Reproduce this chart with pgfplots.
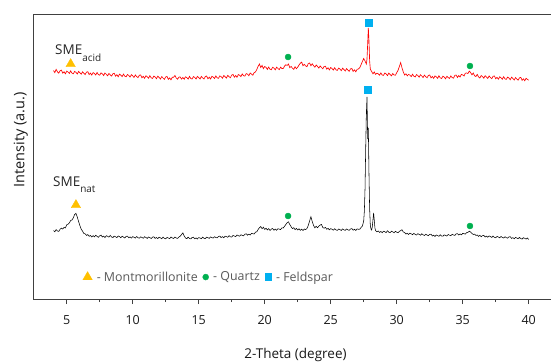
\documentclass[border=0pt]{standalone}
\usepackage{pgfplots}
\pgfplotsset{compat=1.18}
\usepackage{fontspec}
\setmainfont{Open Sans}
\definecolor{mgold}{HTML}{FFC000}
\definecolor{mgreen}{HTML}{00B050}
\definecolor{mblue}{HTML}{00B0F0}
\definecolor{axgray}{HTML}{404040}
\definecolor{leggray}{HTML}{595959}
\begin{document}
\begin{tikzpicture}
\begin{axis}[
  name=ax,
  scale only axis,
  width=521.4pt, height=285pt,
  xmin=2.5, xmax=42, ymin=0, ymax=285,
  xtick={5,10,...,40},
  minor x tick num=1,
  ytick=\empty,
  tick pos=bottom,
  tick align=outside,
  major tick length=5pt,
  minor tick length=3pt,
  axis line style={axgray, line width=0.9pt},
  every tick/.style={axgray, line width=0.8pt},
  /pgf/number format/assume math mode=true,
  tick label style={font=\fontsize{12.5}{12.5}\selectfont, black!90},
  xticklabel style={yshift=-8pt},
  xlabel={2-Theta (degree)},
  xlabel style={font=\fontsize{13.5}{13.5}\selectfont, black!90, at={(axis description cs:0.502,0)}, anchor=north, yshift=-49pt, inner sep=0pt},
  ylabel={Intensity (a.u.)},
  ylabel style={font=\fontsize{14.5}{14.5}\selectfont, black!90, at={(axis description cs:-0.011,0.558)}, anchor=south, inner sep=0pt},
  legend columns=3,
  legend style={draw=none, fill=none, font=\fontsize{12.4}{12.4}\selectfont, text=leggray,
    at={(axis description cs:0.094,0.077)}, anchor=west, inner sep=0pt,
    /tikz/every odd column/.append style={column sep=2.5pt},
    /tikz/every even column/.append style={column sep=3pt}},
  legend image code/.code={\draw[#1] plot coordinates {(0.15cm,0cm)};},
  clip=false,
]
% SME_nat (black)
\addplot[black, line width=0.55pt, forget plot] table {
x y
4.0 68.5
4.1 67.2
4.2 69.4
4.3 68.0
4.4 67.6
4.5 69.8
4.6 70.9
4.7 70.0
4.8 71.6
4.9 71.0
5.0 74.2
5.1 74.8
5.2 76.0
5.3 78.5
5.4 79.0
5.5 81.2
5.6 84.5
5.7 85.6
5.8 82.0
5.9 77.5
6.0 73.4
6.1 69.8
6.2 67.9
6.3 65.5
6.4 65.2
6.5 63.6
6.6 64.4
6.7 62.7
6.8 63.5
6.9 62.0
7.0 63.4
7.1 62.1
7.2 63.8
7.3 62.6
7.4 61.7
7.5 63.2
7.6 63.9
7.7 62.0
7.8 62.9
7.9 61.4
8.0 63.3
8.1 62.7
8.2 61.9
8.3 63.6
8.4 62.0
8.5 61.5
8.6 62.9
8.7 62.3
8.8 61.4
8.9 63.0
9.0 62.5
9.1 61.3
9.2 62.8
9.3 61.9
9.4 61.0
9.5 62.6
9.6 62.9
9.7 61.2
9.8 62.1
9.9 60.9
10.0 62.4
10.1 61.8
10.2 60.9
10.3 62.5
10.4 61.3
10.5 60.8
10.6 62.2
10.7 61.6
10.8 60.7
10.9 62.3
11.0 61.5
11.1 60.6
11.2 62.0
11.3 61.4
11.4 60.5
11.5 61.9
11.6 62.2
11.7 60.6
11.8 61.5
11.9 60.4
12.0 61.8
12.1 61.2
12.2 60.3
12.3 61.9
12.4 60.7
12.5 60.2
12.6 61.6
12.7 61.0
12.8 60.4
12.9 62.0
13.0 61.1
13.1 60.5
13.2 61.9
13.3 61.0
13.4 60.6
13.5 62.0
13.6 62.8
13.7 64.5
13.8 66.2
13.9 63.0
14.0 61.0
14.1 60.4
14.2 61.8
14.3 60.6
14.4 60.1
14.5 61.5
14.6 61.8
14.7 60.2
14.8 61.1
14.9 60.0
15.0 61.4
15.1 61.0
15.2 60.3
15.3 61.9
15.4 60.7
15.5 60.4
15.6 61.8
15.7 61.3
15.8 60.6
15.9 62.1
16.0 61.4
16.1 60.9
16.2 62.3
16.3 61.5
16.4 61.1
16.5 62.5
16.6 62.9
16.7 61.4
16.8 62.4
16.9 61.3
17.0 62.8
17.1 62.4
17.2 61.7
17.3 63.3
17.4 62.2
17.5 62.0
17.6 63.5
17.7 63.0
17.8 62.4
17.9 64.0
18.0 63.3
18.1 62.8
18.2 64.3
18.3 63.6
18.4 63.2
18.5 64.8
18.6 65.2
18.7 63.8
18.8 64.9
18.9 64.0
19.0 65.6
19.1 65.3
19.2 65.0
19.3 66.9
19.4 67.2
19.5 69.5
19.6 71.3
19.7 72.4
19.8 70.3
19.9 71.8
20.0 69.6
20.1 70.8
20.2 69.0
20.3 70.4
20.4 68.6
20.5 69.9
20.6 70.5
20.7 68.8
20.8 69.9
20.9 68.7
21.0 70.3
21.1 69.9
21.2 69.4
21.3 71.2
21.4 71.0
21.5 72.6
21.6 74.5
21.7 76.3
21.8 77.2
21.9 74.5
22.0 72.3
22.1 70.4
22.2 71.3
22.3 69.4
22.4 70.6
22.5 69.0
22.6 70.2
22.7 68.7
22.8 69.8
22.9 68.5
23.0 70.0
23.1 69.4
23.2 70.5
23.3 73.5
23.4 78.0
23.5 82.3
23.6 77.5
23.7 73.6
23.8 71.2
23.9 72.7
24.0 71.3
24.1 72.8
24.2 73.9
24.3 74.6
24.4 71.5
24.5 70.8
24.6 71.6
24.7 69.7
24.8 70.6
24.9 69.2
25.0 70.4
25.1 69.7
25.2 68.8
25.3 70.3
25.4 69.1
25.5 68.6
25.6 70.0
25.7 69.4
25.8 68.5
25.9 70.1
26.0 69.2
26.1 68.6
26.2 70.0
26.3 69.1
26.4 68.7
26.5 70.1
26.6 70.4
26.7 68.8
26.8 69.7
26.9 68.6
27.0 70.1
27.1 69.7
27.2 69.8
27.3 71.5
27.4 73.0
27.5 78.0
27.55 88
27.6 110
27.65 150
27.7 185
27.75 202
27.8 160
27.85 171
27.9 125
27.95 90
28.0 74
28.05 70
28.1 69
28.15 72
28.2 79
28.25 86
28.3 79
28.35 71
28.4 68.5
28.5 67.2
28.6 68.0
28.7 66.6
28.8 67.5
28.9 66.3
29.0 67.8
29.1 67.2
29.2 66.4
29.3 68.3
29.4 66.8
29.5 66.4
29.6 67.8
29.7 67.1
29.8 66.2
29.9 67.7
30.0 66.8
30.1 66.3
30.2 67.6
30.3 68.4
30.4 69.3
30.5 67.0
30.6 66.6
30.7 64.9
30.8 65.8
30.9 64.5
31.0 65.8
31.1 65.2
31.2 64.3
31.3 65.7
31.4 64.5
31.5 64.0
31.6 65.3
31.7 64.6
31.8 63.8
31.9 65.2
32.0 64.2
32.1 63.5
32.2 64.8
32.3 63.9
32.4 63.3
32.5 64.6
32.6 64.8
32.7 63.0
32.8 63.8
32.9 62.6
33.0 64.0
33.1 63.4
33.2 62.7
33.3 64.2
33.4 63.0
33.5 62.8
33.6 64.1
33.7 63.6
33.8 63.0
33.9 64.5
34.0 63.8
34.1 63.3
34.2 64.7
34.3 64.0
34.4 63.6
34.5 65.1
34.6 65.4
34.7 64.0
34.8 65.1
34.9 64.2
35.0 65.6
35.1 65.3
35.2 64.9
35.3 66.4
35.4 66.7
35.5 67.8
35.6 67.0
35.7 65.6
35.8 64.5
35.9 64.9
36.0 63.5
36.1 64.0
36.2 62.6
36.3 63.7
36.4 62.3
36.5 63.4
36.6 63.6
36.7 62.0
36.8 62.9
36.9 61.8
37.0 63.1
37.1 62.4
37.2 61.6
37.3 63.0
37.4 61.7
37.5 61.3
37.6 62.6
37.7 62.0
37.8 61.2
37.9 62.6
38.0 61.6
38.1 61.0
38.2 62.3
38.3 61.4
38.4 60.8
38.5 62.1
38.6 62.3
38.7 60.6
38.8 61.4
38.9 60.3
39.0 61.6
39.1 61.0
39.2 60.3
39.3 61.6
39.4 60.4
39.5 60.0
39.6 61.3
39.7 60.7
39.8 59.9
39.9 61.0
40.0 59.6
};
% SME_acid (red)
\addplot[red, line width=0.65pt, forget plot] table {
x y
4.0 228.5
4.1 226.4
4.2 229.6
4.3 227.2
4.4 225.9
4.5 228.3
4.6 228.9
4.7 225.8
4.8 227.3
4.9 225.2
5.0 227.9
5.1 227.0
5.2 225.6
5.3 228.1
5.4 225.9
5.5 225.2
5.6 227.6
5.7 226.7
5.8 225.0
5.9 227.5
6.0 226.3
6.1 224.8
6.2 227.2
6.3 225.7
6.4 224.5
6.5 226.9
6.6 227.3
6.7 224.4
6.8 225.9
6.9 223.9
7.0 226.4
7.1 225.5
7.2 224.0
7.3 226.5
7.4 224.4
7.5 223.8
7.6 226.1
7.7 225.2
7.8 223.5
7.9 226.0
8.0 224.7
8.1 223.2
8.2 225.6
8.3 224.1
8.4 222.9
8.5 225.3
8.6 225.7
8.7 222.8
8.8 224.3
8.9 222.3
9.0 224.8
9.1 223.9
9.2 222.4
9.3 224.9
9.4 222.8
9.5 222.2
9.6 224.5
9.7 223.6
9.8 221.9
9.9 224.4
10.0 223.1
10.1 221.6
10.2 224.0
10.3 222.5
10.4 221.3
10.5 223.7
10.6 224.1
10.7 221.2
10.8 222.7
10.9 220.7
11.0 223.2
11.1 222.3
11.2 220.8
11.3 223.3
11.4 221.2
11.5 220.6
11.6 222.9
11.7 222.0
11.8 220.3
11.9 222.8
12.0 221.5
12.1 220.0
12.2 222.4
12.3 220.9
12.4 219.7
12.5 222.1
12.6 222.5
12.7 219.6
12.8 221.1
12.9 219.2
13.0 221.7
13.1 221.8
13.2 223.5
13.3 221.0
13.4 219.8
13.5 221.9
13.6 222.0
13.7 219.9
13.8 221.5
13.9 219.8
14.0 222.2
14.1 221.4
14.2 220.0
14.3 222.6
14.4 220.5
14.5 220.0
14.6 222.4
14.7 221.6
14.8 220.0
14.9 222.6
15.0 221.4
15.1 220.0
15.2 222.5
15.3 221.1
15.4 220.0
15.5 222.5
15.6 223.0
15.7 220.2
15.8 221.8
15.9 220.0
16.0 222.6
16.1 221.9
16.2 220.5
16.3 223.1
16.4 221.1
16.5 220.7
16.6 223.1
16.7 222.4
16.8 220.8
16.9 223.5
17.0 222.3
17.1 221.0
17.2 223.6
17.3 222.3
17.4 221.3
17.5 223.9
17.6 224.5
17.7 221.8
17.8 223.5
17.9 221.7
18.0 224.4
18.1 223.7
18.2 222.4
18.3 225.1
18.4 223.2
18.5 222.9
18.6 225.4
18.7 224.8
18.8 223.3
18.9 226.0
19.0 224.9
19.1 223.8
19.2 226.4
19.3 227.0
19.4 229.5
19.5 232.6
19.6 235.0
19.7 231.5
19.8 233.6
19.9 230.4
20.0 232.5
20.1 231.7
20.2 229.6
20.3 232.0
20.4 229.8
20.5 229.3
20.6 231.7
20.7 230.9
20.8 229.2
20.9 231.8
21.0 230.6
21.1 229.3
21.2 231.8
21.3 230.5
21.4 230.4
21.5 232.9
21.6 234.2
21.7 233.6
21.8 235.0
21.9 231.3
22.0 232.6
22.1 230.8
22.2 229.7
22.3 232.2
22.4 230.3
22.5 231.8
22.6 234.0
22.7 235.8
22.8 236.9
22.9 233.3
23.0 234.6
23.1 233.1
23.2 232.3
23.3 235.4
23.4 236.0
23.5 233.2
23.6 235.2
23.7 233.3
23.8 231.8
23.9 234.0
24.0 232.6
24.1 230.9
24.2 233.1
24.3 231.5
24.4 230.2
24.5 232.5
24.6 232.8
24.7 229.8
24.8 231.2
24.9 229.1
25.0 231.5
25.1 230.5
25.2 228.9
25.3 231.3
25.4 229.2
25.5 228.6
25.6 230.9
25.7 230.0
25.8 228.3
25.9 230.8
26.0 229.5
26.1 228.0
26.2 230.4
26.3 228.9
26.4 227.7
26.5 230.1
26.6 230.5
26.7 227.6
26.8 229.1
26.9 227.2
27.0 229.7
27.1 230.0
27.2 231.4
27.3 234.2
27.4 237.5
27.5 240.5
27.6 238.0
27.7 235.0
27.75 240
27.8 255
27.85 271
27.9 258
27.95 238
28.0 230
28.1 227.5
28.2 225.2
28.3 227.0
28.4 224.6
28.5 225.8
28.6 225.2
28.7 223.8
28.8 226.1
28.9 224.0
29.0 223.6
29.1 226.0
29.2 225.1
29.3 223.4
29.4 225.9
29.5 224.6
29.6 223.1
29.7 225.5
29.8 224.0
29.9 223.8
30.0 226.3
30.1 228.6
30.2 232.5
30.3 236.4
30.4 231.2
30.5 227.0
30.6 224.0
30.7 225.2
30.8 223.2
30.9 224.6
31.0 223.9
31.1 222.4
31.2 224.8
31.3 222.7
31.4 222.1
31.5 224.4
31.6 223.5
31.7 221.8
31.8 224.3
31.9 223.0
32.0 221.5
32.1 223.9
32.2 222.4
32.3 221.2
32.4 223.6
32.5 224.0
32.6 221.1
32.7 222.6
32.8 220.6
32.9 223.1
33.0 222.2
33.1 220.7
33.2 223.2
33.3 221.1
33.4 220.5
33.5 222.8
33.6 221.9
33.7 220.2
33.8 222.7
33.9 221.4
34.0 220.6
34.1 223.0
34.2 221.5
34.3 220.8
34.4 223.6
34.5 224.0
34.6 221.5
34.7 223.4
34.8 221.9
34.9 224.6
35.0 224.1
35.1 223.0
35.2 225.8
35.3 226.0
35.4 225.5
35.5 227.9
35.6 226.4
35.7 224.2
35.8 226.0
35.9 223.2
36.0 222.5
36.1 224.6
36.2 222.1
36.3 221.0
36.4 223.4
36.5 222.5
36.6 220.8
36.7 223.3
36.8 222.0
36.9 220.6
37.0 223.0
37.1 221.5
37.2 220.3
37.3 222.7
37.4 223.1
37.5 220.2
37.6 221.7
37.7 219.7
37.8 222.2
37.9 221.3
38.0 219.8
38.1 222.3
38.2 220.2
38.3 219.6
38.4 221.9
38.5 221.0
38.6 219.3
38.7 221.8
38.8 220.5
38.9 219.0
39.0 221.4
39.1 219.9
39.2 218.8
39.3 221.2
39.4 221.6
39.5 218.7
39.6 220.2
39.7 218.3
39.8 220.7
39.9 219.6
40.0 218.8
};
% phase markers
\addplot[only marks, mark=triangle*, mark size=5.4pt, color=mgold, mark options={fill=mgold, draw=mgold}] coordinates {(5.3,235) (5.7,94)};
\addlegendentry{- Montmorillonite}
\addplot[only marks, mark=*, mark size=3pt, color=mgreen, mark options={fill=mgreen, draw=mgreen}] coordinates {(21.77,242) (35.55,233) (21.77,83) (35.55,73)};
\addlegendentry{- Quartz}
\addplot[only marks, mark=square*, mark size=3.4pt, color=mblue, mark options={fill=mblue, draw=mblue}] coordinates {(27.9,276) (27.8,209)};
\addlegendentry{- Feldspar}
% sample labels
\node[anchor=base west, inner sep=0pt, text=black!85, font=\fontsize{13.5}{13.5}\selectfont] at (axis cs:4.11,244) {SME\raisebox{-6pt}{\fontsize{10}{10}\selectfont acid}};
\node[anchor=base west, inner sep=0pt, text=black!85, font=\fontsize{13.5}{13.5}\selectfont] at (axis cs:3.96,113) {SME\raisebox{-6pt}{\fontsize{10}{10}\selectfont nat}};
\end{axis}
\pgfresetboundingbox
\path[use as bounding box] ([xshift=-33.7pt,yshift=-63pt]ax.south west) rectangle ([xshift=517.3pt,yshift=14pt]ax.north west);
\end{tikzpicture}
\end{document}
